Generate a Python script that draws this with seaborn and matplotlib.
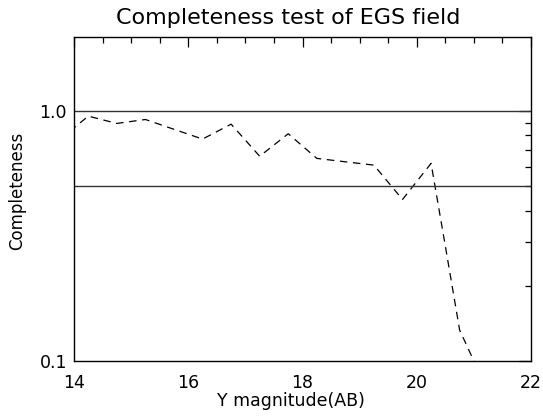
import matplotlib
matplotlib.use("Agg")
import matplotlib.pyplot as plt
from matplotlib.ticker import MultipleLocator, FixedLocator, FixedFormatter, NullFormatter
import numpy as np
import pandas as pd
import seaborn as sns

sns.set_style("white")
plt.rcParams['font.family'] = ['DejaVu Sans']
plt.rcParams['text.color'] = 'black'
plt.rcParams['axes.labelcolor'] = 'black'
plt.rcParams['xtick.color'] = 'black'
plt.rcParams['ytick.color'] = 'black'

magnitude = [13.75, 14.25, 14.75, 15.25, 15.75, 16.25, 16.75, 17.25, 17.75,
             18.25, 18.75, 19.25, 19.75, 20.25, 20.5, 20.75, 21.25]
completeness = [0.77, 0.955, 0.893, 0.926, 0.846, 0.773, 0.887, 0.66, 0.812,
                0.647, 0.627, 0.608, 0.443, 0.618, 0.288, 0.133, 0.075]
ref_levels = [1.0, 0.5]

dados = pd.DataFrame({"mag": magnitude, "comp": completeness})

fig = plt.figure(figsize=(5.43, 4.16), dpi=100)
ax = fig.add_axes([0.1363, 0.1322, 0.978 - 0.1363, 0.911 - 0.1322])

sns.lineplot(data=dados, x="mag", y="comp", ax=ax, color="black",
             linewidth=0.9, linestyle=(0, (6, 4.5)), sort=False)
for lev in ref_levels:
    ax.axhline(lev, color="#333333", linewidth=1.0)

ax.set_yscale("log")
ax.set_xlim(14, 22)
ax.set_ylim(0.1, 1.98)

ax.xaxis.set_major_locator(MultipleLocator(2))
ax.xaxis.set_minor_locator(MultipleLocator(0.5))
ax.yaxis.set_major_locator(FixedLocator([0.1, 1.0]))
ax.yaxis.set_minor_locator(FixedLocator([0.2, 0.3, 0.4, 0.5, 0.6, 0.7, 0.8, 0.9]))
ax.yaxis.set_major_formatter(FixedFormatter(["0.1", "1.0"]))
ax.yaxis.set_minor_formatter(NullFormatter())

ax.tick_params(axis="both", which="both", direction="in", top=True, right=True,
               color="black", labelsize=12.5)
ax.tick_params(axis="x", which="major", length=7, width=0.9, pad=9)
ax.tick_params(axis="x", which="minor", length=4, width=0.9)
ax.tick_params(axis="y", which="major", length=9, width=0.9, pad=5)
ax.tick_params(axis="y", which="minor", length=4, width=0.9)

for sp in ax.spines.values():
    sp.set_color("black")
    sp.set_linewidth(1.0)

fig.text(288 / 543, 1 - 18 / 416, "Completeness test of EGS field",
         fontsize=16, ha="center", va="center")
ax.set_xlabel("Y magnitude(AB)", fontsize=12.5)
ax.xaxis.set_label_coords((291 - 74) / 457, -(401 - 361) / 324)
ax.xaxis.label.set_va("center")
ax.set_ylabel("Completeness", fontsize=12)
ax.yaxis.set_label_coords((17 - 74) / 457, (361 - 191) / 324)
ax.yaxis.label.set_va("center")

fig.savefig("out.png", dpi=100, facecolor="white")
